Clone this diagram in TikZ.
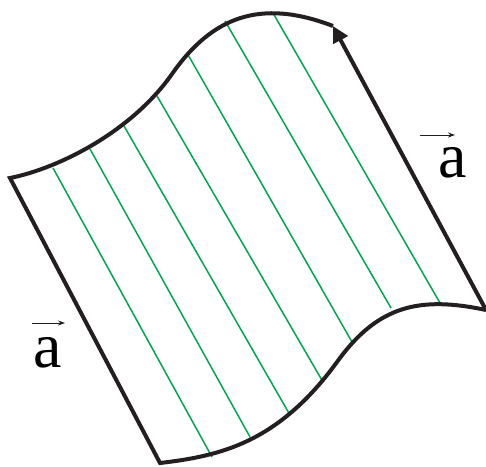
\documentclass[tikz,border=0pt]{standalone}
\usepackage{fontspec}
\setmainfont{Liberation Serif}
\usetikzlibrary{arrows.meta}
\definecolor{lgreen}{RGB}{0,166,81}
\definecolor{edge}{RGB}{35,31,32}
\tikzset{
  border/.style={draw=edge, line width=4pt, line join=miter},
  fiber/.style={draw=lgreen, line width=1.5pt},
  lbl/.style={font=\fontsize{64}{64}\selectfont, inner sep=0pt, anchor=base},
  vecarrow/.style={draw=edge, line width=1pt, -{Stealth[length=7pt,width=5pt]}}
}
\begin{document}
\begin{tikzpicture}[x=1pt,y=-1pt]
\useasboundingbox (0,0) rectangle (486,466);
% fibres
\foreach \ax/\ay/\bx/\by in {53/168/212/457, 90/149/250/437, 124/126/290/415, 157/96/323/382, 187/53/352/342, 225/21/391/308, 273/13/440/303}
  \draw[fiber] (\ax,\ay) -- (\bx,\by);
% corners
\coordinate (tr) at (333,26);
\coordinate (tl) at (10,178);
\coordinate (bl) at (160,463);
\coordinate (br) at (486,310);
\coordinate (tm) at (172,74);
\coordinate (bm) at (337,362);
% boundary (top, left, bottom)
\draw[border] (tr) .. controls (260,-2) and (212,17) .. (tm)
  .. controls (132,131) and (60,168) .. (tl)
  -- (bl)
  .. controls (220,456) and (278,443) .. (bm)
  .. controls (378,305) and (420,296) .. (br);
% right edge with arrow
\draw[border, -{Triangle[length=16pt,width=16pt]}] (br) -- (tr);
% labels
\node[lbl] (la) at (48,367) {a};
\node[lbl] (ra) at (453,177) {a};
\coordinate (la1) at (32,323);
\coordinate (la2) at (65,323);
\coordinate (ra1) at (420,135);
\coordinate (ra2) at (455,135);
\draw[vecarrow] (la1) -- (la2);
\draw[vecarrow] (ra1) -- (ra2);
\end{tikzpicture}
\end{document}
